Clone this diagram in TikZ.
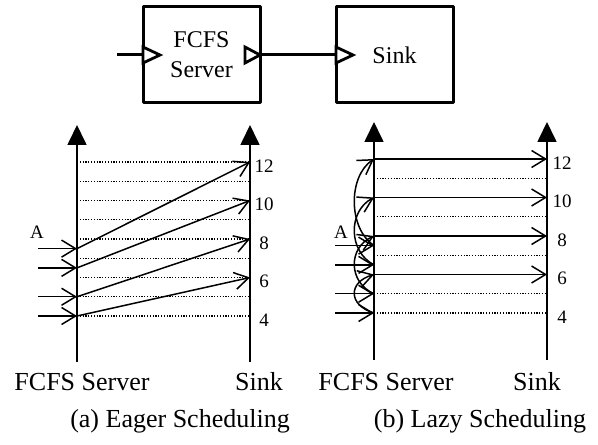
\documentclass[tikz,border=0pt]{standalone}
\usepackage{fontspec}
\setmainfont{Liberation Serif}
\usetikzlibrary{arrows.meta}

\tikzset{
  block/.style={draw, line width=3pt, outer sep=0pt, minimum width=117pt, minimum height=96pt, align=center, font=\fontsize{24}{30}\selectfont},
  port/.style={draw, fill=white, line width=2.8pt, line join=miter},
  msg/.style={line width=1.5pt, -{Straight Barb[length=14pt,width=17pt]}},
  timeaxis/.style={line width=1.7pt, -{Triangle[length=20pt,width=19pt]}},
  slot/.style={line width=1.2pt, dash pattern=on 1.2pt off 1.6pt},
  timelabel/.style={font=\fontsize{19}{19}\selectfont},
  subcap/.style={anchor=base, font=\fontsize{26}{26}\selectfont},
}

\begin{document}
\begin{tikzpicture}[line cap=butt,line join=round,x=1pt,y=1pt]
\useasboundingbox (0,0) rectangle (598,445);
% blocks
\node [block] (fcfs) at (201.5,390) {FCFS\\Server};
\node [block] (sink) at (394.5,390) {Sink};
\coordinate (in) at (117,390);
\draw [line width=3pt] (in) -- (fcfs.west);
\draw [line width=3pt] (fcfs.east) -- (sink.west);
\draw [port] ([yshift=8pt]fcfs.west) -- ++(17,-8) -- ++(-17,-8) -- cycle;
\draw [port] (fcfs.east) -- ++(-15,8) -- ++(0,-16) -- cycle;
\draw [port] ([yshift=8pt]sink.west) -- ++(17,-8) -- ++(-17,-8) -- cycle;

% (a) eager
\begin{scope}[shift={(77,129)}]
\foreach \tm in {4,...,12}
  \draw [slot] (0,{(\tm-4)*19.25}) -- (173,{(\tm-4)*19.25});
\coordinate (ea-lo) at (0,-46);
\coordinate (ea-hi) at (0,191);
\coordinate (ez-lo) at (173,-46);
\coordinate (ez-hi) at (173,191);
\draw [timeaxis] (ea-lo) -- (ea-hi);
\draw [timeaxis] (ez-lo) -- (ez-hi);
\foreach \tm in {4,6,...,12}
  \node [timelabel] (ea-t\tm) at (187,{(\tm-4)*19.25-4}) {\tm};
\node [timelabel] (ea-A) at (-40,84) {A};
\foreach \a/\s [count=\i] in {4/6,5/8,6.5/10,7.5/12} {
  \coordinate (src\i) at (-39,{(\a-4)*19.25});
  \coordinate (arr\i) at (0,{(\a-4)*19.25});
  \coordinate (snk\i) at (173,{(\s-4)*19.25});
  \draw [msg] (src\i) -- (arr\i);
  \draw [msg] (arr\i) -- (snk\i);
}
\end{scope}

% (b) lazy
\begin{scope}[shift={(374,132)}]
\foreach \tm in {4,...,12}
  \draw [slot] (0,{(\tm-4)*19.25}) -- (173,{(\tm-4)*19.25});
\coordinate (la-lo) at (0,-47);
\coordinate (la-hi) at (0,191);
\coordinate (lz-lo) at (173,-47);
\coordinate (lz-hi) at (173,191);
\draw [timeaxis] (la-lo) -- (la-hi);
\draw [timeaxis] (lz-lo) -- (lz-hi);
\foreach \tm in {4,6,...,12}
  \node [timelabel] (la-t\tm) at (188,{(\tm-4)*19.25-4}) {\tm};
\node [timelabel] (la-A) at (-33,81) {A};
\foreach \a/\s [count=\i] in {4/6,5/8,6.5/10,7.5/12} {
  \coordinate (src\i) at (-39,{(\a-4)*19.25});
  \coordinate (arr\i) at (0,{(\a-4)*19.25});
  \coordinate (dep\i) at (0,{(\s-4)*19.25});
  \coordinate (snk\i) at (173,{(\s-4)*19.25});
  \draw [msg] (src\i) -- (arr\i);
  \draw [msg] (arr\i) .. controls +(-26,{(\s-\a)*3.85}) and +(-26,{-(\s-\a)*3.85}) .. (dep\i);
  \draw [msg] (dep\i) -- (snk\i);
}
\end{scope}

% labels
\node [subcap] (ea-srv) at (82,54) {FCFS Server};
\node [subcap] (ea-snk) at (259,54) {Sink};
\node [subcap] (la-srv) at (386,54) {FCFS Server};
\node [subcap] (la-snk) at (537,54) {Sink};
\node [subcap] (cap-a) at (180,17) {(a) Eager Scheduling};
\node [subcap] (cap-b) at (480,17) {(b) Lazy Scheduling};
\end{tikzpicture}
\end{document}
